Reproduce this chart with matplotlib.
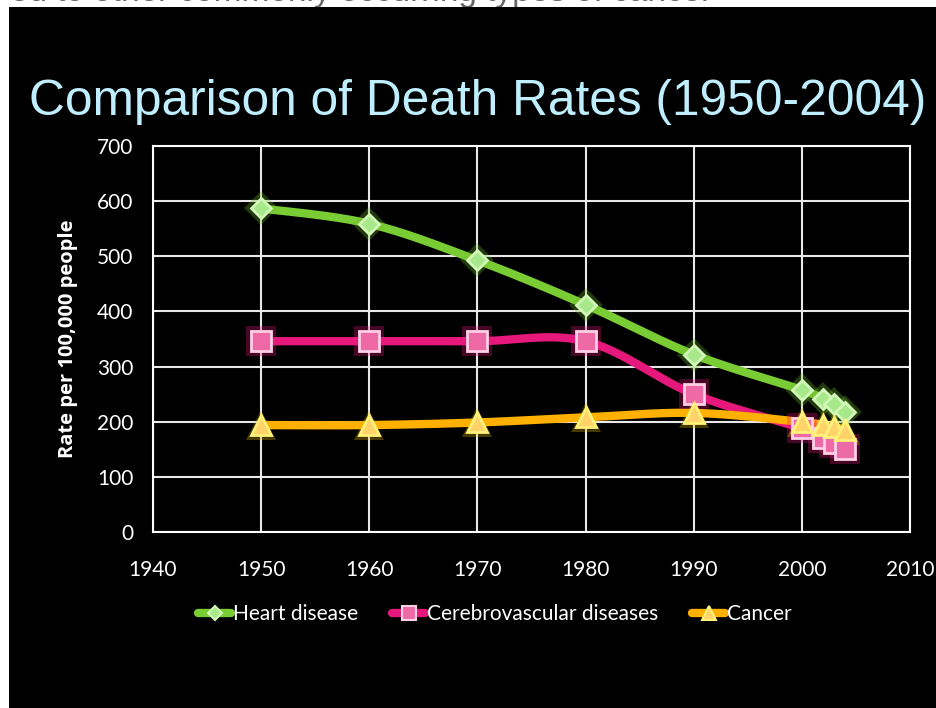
import numpy as np
import matplotlib
matplotlib.use("Agg")
import matplotlib.pyplot as plt
from matplotlib.lines import Line2D
from matplotlib.patches import Rectangle

years = [1950, 1960, 1970, 1980, 1990, 2000, 2002, 2003, 2004]
heart = [586.8, 559.0, 492.7, 412.1, 321.8, 257.6, 240.8, 232.3, 217.0]
cerebro = [346, 346, 346, 346, 250, 188, 170, 162, 151]
cancer = [193.9, 193.9, 198.6, 207.9, 216.0, 199.6, 193.5, 190.1, 185.8]
series_names = ["Heart disease", "Cerebrovascular diseases", "Cancer"]
x_ticks = [1940, 1950, 1960, 1970, 1980, 1990, 2000, 2010]
y_ticks = [0, 100, 200, 300, 400, 500, 600, 700]

W, H = 937, 708
fig = plt.figure(figsize=(W / 100, H / 100), dpi=100)
fig.patch.set_facecolor("white")
# black slide area
fig.add_artist(Rectangle((9 / W, 0), 1 - 9 / W, 1 - 7 / H, transform=fig.transFigure,
                         facecolor="black", edgecolor="none", zorder=0))
# cut-off text on top strip (only the lowest part of the glyphs is visible)
fig.text(10 / W, 1 - 1 / H, "ed to other commonly occurring types of cancer", color="#666666",
         fontsize=24, family="Liberation Sans", va="baseline", ha="left", zorder=-1)

fig.text(478 / W, 1 - 115 / H, "Comparison of Death Rates (1950-2004)", color="#BFEFFF",
         fontsize=35.7, family="Liberation Sans", ha="center", va="baseline")

ax = fig.add_axes([153 / W, 1 - 532 / H, (910 - 153) / W, (532 - 146) / H])
ax.set_facecolor("black")
ax.set_xlim(1940, 2010)
ax.set_ylim(0, 700)
ax.set_xticks(x_ticks)
ax.set_yticks(y_ticks)
ax.grid(True, color="#E8E8E8", linewidth=1.5)
for s in ax.spines.values():
    s.set_color("white")
    s.set_linewidth(1.5)
ax.tick_params(colors="white", length=0, labelsize=15)
ax.tick_params(axis="x", pad=20)
ax.tick_params(axis="y", pad=14)
for lab in ax.get_xticklabels() + ax.get_yticklabels():
    lab.set_family("Lato")
    lab.set_color("white")
ax.set_ylabel("Rate per 100,000 people", color="white", fontsize=14.5, fontweight="bold",
              family="Open Sans", labelpad=14)


def smooth(xs, ys, n=30):
    xs = np.asarray(xs, float)
    ys = np.asarray(ys, float)
    P = np.column_stack([xs, ys])
    out = []
    for i in range(len(P) - 1):
        p0 = P[i - 1] if i > 0 else P[i]
        p1 = P[i]
        p2 = P[i + 1]
        p3 = P[i + 2] if i + 2 < len(P) else P[i + 1]
        c1 = p1 + (p2 - p0) / 6
        c2 = p2 - (p3 - p1) / 6
        t = np.linspace(0, 1, n)[:, None]
        seg = ((1 - t) ** 3) * p1 + 3 * ((1 - t) ** 2) * t * c1 + 3 * (1 - t) * t ** 2 * c2 + t ** 3 * p2
        out.append(seg if i == 0 else seg[1:])
    out = np.vstack(out)
    return out[:, 0], out[:, 1]


styles = [
    (heart, "#7ACC35", "D", 10, "#A6E88A", "#D2F7B8", "#6FBF2A"),
    (cerebro, "#E6187C", "s", 14, "#EE6AA6", "#FFD0E6", "#E6187C"),
    (cancer, "#FFB000", "^", 14, "#FFD36A", "#FFF27A", "#E8C000"),
]
handles = []
for (vals, lc, mk, ms, mfc, mec, glow), name in zip(styles, series_names):
    sx, sy = smooth(years, vals)
    ax.plot(sx, sy, color=lc, linewidth=6, solid_capstyle="round", zorder=3)
for (vals, lc, mk, ms, mfc, mec, glow), name in zip(styles, series_names):
    ax.plot(years, vals, linestyle="none", marker=mk, markersize=ms + 7, color=glow, alpha=0.3,
            markeredgewidth=0, zorder=4)
    ax.plot(years, vals, linestyle="none", marker=mk, markersize=ms, markerfacecolor=mfc,
            markeredgecolor=mec, markeredgewidth=2, zorder=5)
    handles.append(Line2D([0], [0], color=lc, linewidth=6, solid_capstyle="round", marker=mk,
                          markersize=ms * 0.75, markerfacecolor=mfc, markeredgecolor=mec,
                          markeredgewidth=1.5))

leg = fig.legend(handles, series_names, loc="center", bbox_to_anchor=(495 / W, 1 - 614 / H),
                 ncol=3, frameon=False, handlelength=1.6, handletextpad=0.1, columnspacing=1.6,
                 prop={"family": "Lato", "size": 15})
for t in leg.get_texts():
    t.set_color("white")

fig.savefig("out.png", dpi=100, facecolor=fig.get_facecolor())
